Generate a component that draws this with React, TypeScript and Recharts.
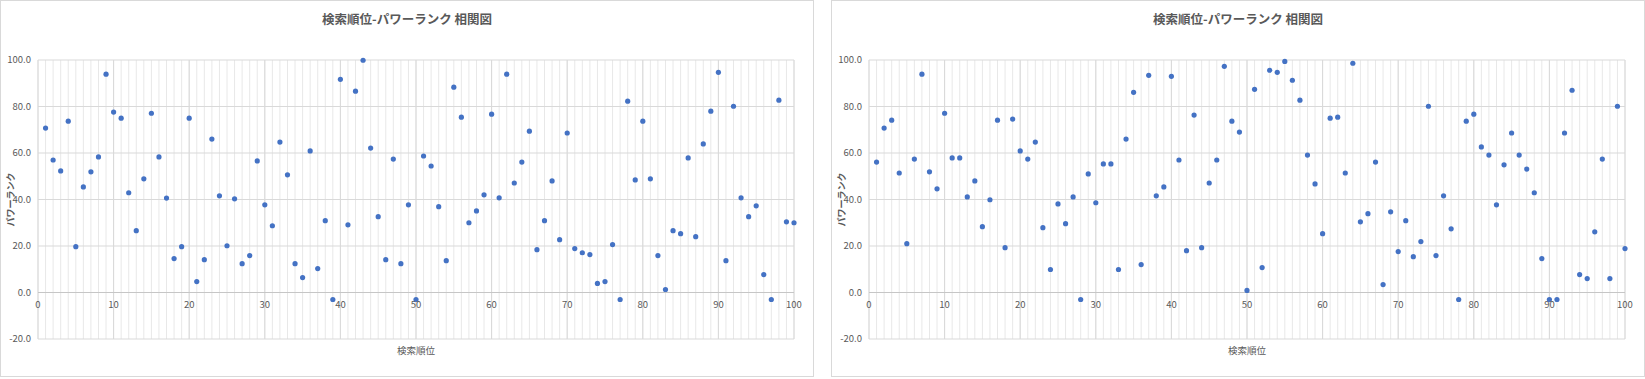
import { ScatterChart, Scatter, XAxis, YAxis, CartesianGrid, ReferenceLine } from 'recharts'

// 検索順位 (x) — 1〜100位
const searchRanks = [
  1, 2, 3, 4, 5, 6, 7, 8, 9, 10, 11, 12, 13, 14, 15, 16, 17, 18, 19, 20,
  21, 22, 23, 24, 25, 26, 27, 28, 29, 30, 31, 32, 33, 34, 35, 36, 37, 38, 39, 40,
  41, 42, 43, 44, 45, 46, 47, 48, 49, 50, 51, 52, 53, 54, 55, 56, 57, 58, 59, 60,
  61, 62, 63, 64, 65, 66, 67, 68, 69, 70, 71, 72, 73, 74, 75, 76, 77, 78, 79, 80,
  81, 82, 83, 84, 85, 86, 87, 88, 89, 90, 91, 92, 93, 94, 95, 96, 97, 98, 99, 100,
]

// パワーランク — 左のグラフ
const powerRankLeft = [
  70.7, 57.0, 52.3, 73.7, 19.7, 45.4, 51.9, 58.3, 93.9, 77.6,
  75.0, 42.9, 26.6, 48.9, 77.1, 58.3, 40.6, 14.6, 19.7, 75.0,
  4.7, 14.1, 66.0, 41.6, 20.1, 40.3, 12.4, 15.9, 56.6, 37.7,
  28.7, 64.7, 50.6, 12.4, 6.4, 60.9, 10.3, 30.9, -3.0, 91.7,
  29.1, 86.6, 99.9, 62.1, 32.6, 14.1, 57.4, 12.4, 37.7, -3.0,
  58.7, 54.4, 36.9, 13.7, 88.3, 75.4, 30.0, 35.1, 42.0, 76.7,
  40.7, 93.9, 47.1, 56.1, 69.4, 18.4, 30.9, 48.0, 22.7, 68.6,
  18.9, 17.1, 16.3, 3.9, 4.7, 20.6, -3.0, 82.3, 48.4, 73.7,
  48.9, 15.9, 1.3, 26.6, 25.3, 57.9, 24.0, 63.9, 78.0, 94.7,
  13.7, 80.1, 40.7, 32.6, 37.3, 7.7, -3.0, 82.7, 30.4, 30.0,
]

// パワーランク — 右のグラフ
const powerRankRight = [
  56.1, 70.7, 74.1, 51.4, 21.0, 57.4, 93.9, 51.9, 44.6, 77.1,
  57.9, 57.9, 41.1, 48.0, 28.3, 39.9, 74.1, 19.3, 74.6, 60.9,
  57.4, 64.7, 27.9, 9.9, 38.1, 29.6, 41.1, -3.0, 51.0, 38.6,
  55.3, 55.3, 9.9, 66.0, 86.1, 12.0, 93.4, 41.6, 45.4, 93.0,
  57.0, 18.0, 76.3, 19.3, 47.1, 57.0, 97.3, 73.7, 69.0, 0.9,
  87.4, 10.7, 95.6, 94.7, 99.4, 91.3, 82.7, 59.1, 46.7, 25.3,
  75.0, 75.4, 51.4, 98.6, 30.4, 33.9, 56.1, 3.4, 34.7, 17.6,
  30.9, 15.4, 21.9, 80.1, 15.9, 41.6, 27.4, -3.0, 73.7, 76.7,
  62.6, 59.1, 37.7, 54.9, 68.6, 59.1, 53.1, 42.9, 14.6, -3.0,
  -3.0, 68.6, 87.0, 7.7, 6.0, 26.1, 57.4, 6.0, 80.1, 18.9,
]

const yTicks = [-20, 0, 20, 40, 60, 80, 100]
const xMajorTicks = [0, 10, 20, 30, 40, 50, 60, 70, 80, 90, 100]
const xMinorTicks = Array.from({ length: 101 }, (_, i) => i)

const TITLE = '検索順位-パワーランク 相関図'
const X_LABEL = '検索順位'
const Y_LABEL = 'パワーランク'

const FONT = "'Noto Sans CJK JP', 'Noto Sans', sans-serif"
const TEXT = '#595959'
const W = 812
const H = 375
const MARGIN = { top: 59, right: 19, bottom: 0, left: 0 }
const Y_AXIS_W = 37
const X_AXIS_H = 37
const PLOT_H = H - MARGIN.top - X_AXIS_H
const ZERO_Y = MARGIN.top + (PLOT_H * 100) / 120

function XTick(props: any) {
  const { x, payload } = props
  if (payload.value % 10 !== 0) return <g />
  return (
    <text x={x} y={ZERO_Y + 15} textAnchor="middle" fontSize={9.5} fill={TEXT} fontFamily={FONT}>
      {payload.value}
    </text>
  )
}

function Dot(props: any) {
  return <circle cx={props.cx} cy={props.cy} r={2.6} fill="#4472C4" />
}

function Correlation({ values }: { values: number[] }) {
  const data = searchRanks.map((x, i) => ({ x, y: values[i] }))
  return (
    <div
      style={{
        position: 'relative',
        width: W,
        height: H,
        border: '1px solid #d9d9d9',
        background: '#fff',
        fontFamily: FONT,
      }}
    >
      <div
        style={{
          position: 'absolute',
          top: 10,
          left: 0,
          width: '100%',
          textAlign: 'center',
          fontSize: 12.5,
          lineHeight: '16px',
          fontWeight: 'bold',
          color: TEXT,
        }}
      >
        {TITLE}
      </div>
      <ScatterChart width={W} height={H} margin={MARGIN}>
        <CartesianGrid horizontal={false} stroke="#e8e8e8" />
        <CartesianGrid vertical={false} stroke="#d9d9d9" />
        <XAxis
          type="number"
          dataKey="x"
          domain={[0, 100]}
          ticks={xMinorTicks}
          interval={0}
          height={X_AXIS_H}
          axisLine={false}
          tickLine={false}
          tick={<XTick />}
          label={{
            content: (p: any) => {
              const vb = p.viewBox
              return (
                <text
                  x={vb.x + vb.width / 2}
                  y={vb.y + 11}
                  textAnchor="middle"
                  dominantBaseline="central"
                  fontSize={9.5}
                  fill={TEXT}
                  fontFamily={FONT}
                >
                  {X_LABEL}
                </text>
              )
            },
          }}
        />
        <YAxis
          type="number"
          dataKey="y"
          domain={[-20, 100]}
          ticks={yTicks}
          interval={0}
          width={Y_AXIS_W}
          axisLine={false}
          tickLine={false}
          tickSize={0}
          tickMargin={7}
          tickFormatter={(v: number) => v.toFixed(1)}
          tick={{ fontSize: 9.5, fill: TEXT, fontFamily: FONT }}
          label={{
            content: (p: any) => {
              const vb = p.viewBox
              const cx = vb.x + 9
              const cy = vb.y + vb.height / 2
              return (
                <text
                  x={cx}
                  y={cy}
                  transform={`rotate(-90 ${cx} ${cy})`}
                  textAnchor="middle"
                  dominantBaseline="central"
                  fontSize={9}
                  fontWeight="bold"
                  fill={TEXT}
                  fontFamily={FONT}
                >
                  {Y_LABEL}
                </text>
              )
            },
          }}
        />
        {xMajorTicks.map((t) => (
          <ReferenceLine key={t} x={t} stroke="#d9d9d9" />
        ))}
        <ReferenceLine y={0} stroke="#c6c6c6" />
        <Scatter data={data} shape={<Dot />} isAnimationActive={false} />
      </ScatterChart>
    </div>
  )
}

export default function App() {
  return (
    <div style={{ position: 'relative', width: 1645, height: 379 }}>
      <style>{'body{margin:0}'}</style>
      <div style={{ position: 'absolute', left: 0, top: 0 }}>
        <Correlation values={powerRankLeft} />
      </div>
      <div style={{ position: 'absolute', left: 831, top: 0 }}>
        <Correlation values={powerRankRight} />
      </div>
    </div>
  )
}
